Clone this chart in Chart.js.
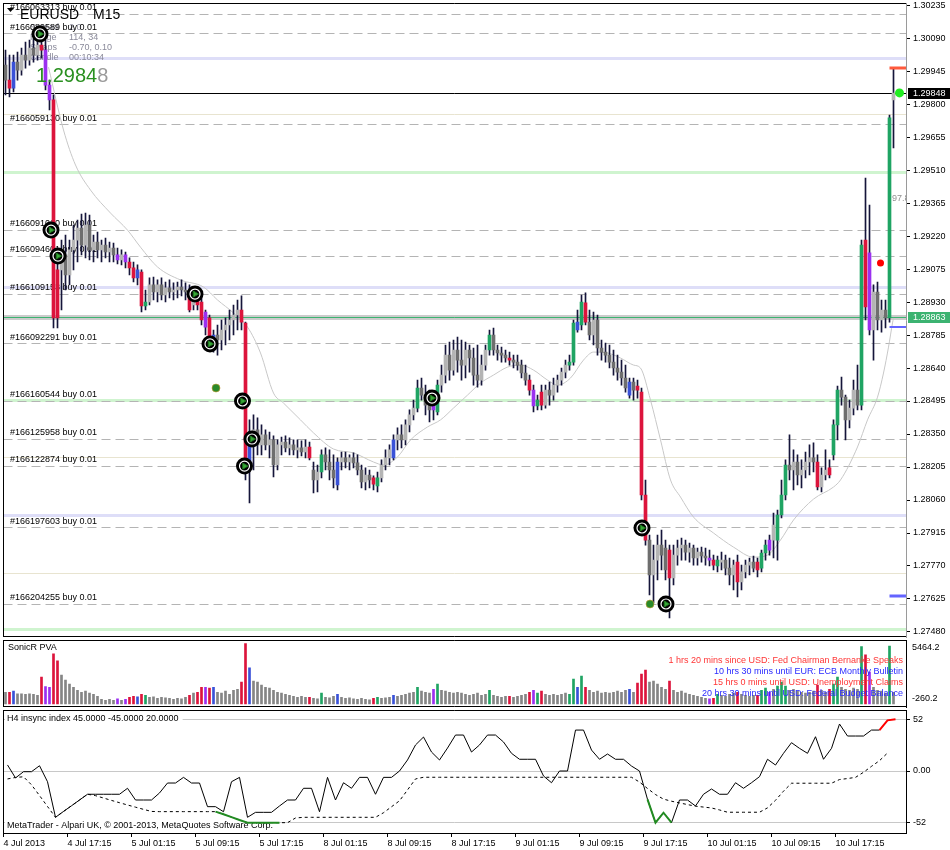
<!DOCTYPE html>
<html><head><meta charset="utf-8"><title>EURUSD M15</title>
<script src="https://cdn.jsdelivr.net/npm/chart.js@4.4.1/dist/chart.umd.min.js"></script>
<style>
html,body{margin:0;padding:0;background:#fff;}
body{width:950px;height:850px;position:relative;overflow:hidden;}
canvas{position:absolute;left:0;}
</style></head><body>
<canvas id="cMain" width="950" height="640" style="top:0px"></canvas>
<canvas id="cVol" width="950" height="70" style="top:639px"></canvas>
<canvas id="cOsc" width="950" height="141" style="top:709px"></canvas>
<script>
// ================= DATA =================
const priceTicks = [1.30235,1.30090,1.29945,1.29800,1.29655,1.29510,1.29365,1.29220,1.29075,1.28930,1.28785,1.28640,1.28495,1.28350,1.28205,1.28060,1.27915,1.27770,1.27625,1.27480];
const timeLabels = ['4 Jul 2013','4 Jul 17:15','5 Jul 01:15','5 Jul 09:15','5 Jul 17:15','8 Jul 01:15','8 Jul 09:15','8 Jul 17:15','9 Jul 01:15','9 Jul 09:15','9 Jul 17:15','10 Jul 01:15','10 Jul 09:15','10 Jul 17:15'];
const timeLabelBar = [0,32,64,96,128,160,192,224,256,288,320,352,384,416]; // M15 bar index

// 30-minute bars [open, high, low, close]
const ohlc = [
[1.29971,1.30037,1.29840,1.29905],[1.29905,1.30015,1.29831,1.29870],[1.29870,1.30015,1.29853,1.29984],[1.29984,1.30028,1.29905,1.29949],
[1.29949,1.30046,1.29927,1.30015],[1.30015,1.30072,1.29958,1.29993],[1.29993,1.30081,1.29971,1.30046],[1.30046,1.30090,1.29984,1.30015],
[1.30015,1.30081,1.29993,1.30059],[1.30059,1.30103,1.30002,1.30037],[1.30037,1.30081,1.29862,1.29883],[1.29883,1.29905,1.29774,1.29818],
[1.29818,1.29840,1.28816,1.28860],[1.28860,1.29159,1.28816,1.29071],[1.29071,1.29202,1.28895,1.29137],[1.29137,1.29224,1.28983,1.29049],
[1.29049,1.29202,1.29005,1.29159],[1.29159,1.29268,1.29071,1.29202],[1.29202,1.29290,1.29106,1.29255],[1.29255,1.29316,1.29137,1.29180],
[1.29180,1.29321,1.29124,1.29268],[1.29268,1.29312,1.29115,1.29159],[1.29159,1.29224,1.29106,1.29193],[1.29193,1.29237,1.29124,1.29159],
[1.29159,1.29202,1.29106,1.29180],[1.29180,1.29211,1.29124,1.29150],[1.29150,1.29193,1.29106,1.29167],[1.29167,1.29189,1.29106,1.29137],
[1.29137,1.29167,1.29097,1.29115],[1.29115,1.29159,1.29093,1.29137],[1.29137,1.29150,1.29080,1.29106],[1.29106,1.29124,1.29049,1.29080],
[1.29080,1.29106,1.29018,1.29036],[1.29036,1.29093,1.29005,1.29071],[1.29062,1.29071,1.28886,1.28913],[1.28913,1.28983,1.28895,1.28930],
[1.28930,1.29036,1.28917,1.29005],[1.29005,1.29040,1.28939,1.28974],[1.28974,1.29027,1.28930,1.29005],[1.29005,1.29036,1.28939,1.28961],
[1.28961,1.29018,1.28930,1.28992],[1.28992,1.29027,1.28948,1.28974],[1.28974,1.29014,1.28939,1.28983],[1.28983,1.29018,1.28948,1.28996],
[1.28996,1.29027,1.28957,1.28983],[1.28983,1.29014,1.28939,1.28974],[1.28952,1.29005,1.28886,1.28895],[1.28917,1.28992,1.28895,1.28961],
[1.28961,1.28983,1.28895,1.28917],[1.28930,1.28948,1.28829,1.28851],[1.28886,1.28895,1.28785,1.28820],[1.28860,1.28873,1.28728,1.28750],
[1.28719,1.28807,1.28710,1.28785],[1.28785,1.28829,1.28697,1.28763],[1.28763,1.28851,1.28719,1.28807],[1.28807,1.28860,1.28741,1.28829],
[1.28829,1.28895,1.28763,1.28851],[1.28851,1.28917,1.28785,1.28873],[1.28873,1.28939,1.28807,1.28895],[1.28895,1.28957,1.28807,1.28842],
[1.28838,1.28842,1.28148,1.28192],[1.28192,1.28412,1.28047,1.28324],[1.28324,1.28434,1.28192,1.28368],[1.28368,1.28421,1.28258,1.28302],
[1.28302,1.28390,1.28258,1.28346],[1.28346,1.28368,1.28280,1.28302],[1.28302,1.28359,1.28245,1.28324],[1.28324,1.28342,1.28161,1.28214],
[1.28214,1.28324,1.28192,1.28302],[1.28302,1.28337,1.28258,1.28315],[1.28315,1.28342,1.28271,1.28289],[1.28289,1.28333,1.28258,1.28302],
[1.28302,1.28324,1.28258,1.28280],[1.28280,1.28324,1.28245,1.28289],[1.28289,1.28320,1.28254,1.28271],[1.28271,1.28324,1.28245,1.28293],
[1.28293,1.28315,1.28236,1.28245],[1.28192,1.28227,1.28091,1.28148],[1.28148,1.28214,1.28095,1.28183],[1.28183,1.28280,1.28157,1.28258],
[1.28258,1.28289,1.28192,1.28227],[1.28227,1.28280,1.28148,1.28192],[1.28192,1.28258,1.28113,1.28157],[1.28126,1.28245,1.28104,1.28227],
[1.28227,1.28271,1.28192,1.28245],[1.28245,1.28271,1.28201,1.28227],[1.28227,1.28258,1.28192,1.28245],[1.28245,1.28267,1.28201,1.28223],
[1.28223,1.28258,1.28170,1.28192],[1.28192,1.28214,1.28113,1.28139],[1.28139,1.28201,1.28104,1.28170],[1.28170,1.28192,1.28113,1.28148],
[1.28157,1.28166,1.28104,1.28130],[1.28122,1.28183,1.28095,1.28157],[1.28157,1.28236,1.28139,1.28214],[1.28214,1.28280,1.28192,1.28245],
[1.28245,1.28302,1.28214,1.28280],[1.28245,1.28346,1.28236,1.28324],[1.28324,1.28377,1.28280,1.28346],[1.28346,1.28390,1.28289,1.28324],
[1.28324,1.28412,1.28302,1.28390],[1.28390,1.28456,1.28359,1.28434],[1.28434,1.28499,1.28412,1.28464],[1.28464,1.28587,1.28447,1.28552],
[1.28552,1.28596,1.28499,1.28521],[1.28521,1.28565,1.28434,1.28477],[1.28477,1.28543,1.28403,1.28456],[1.28456,1.28521,1.28412,1.28490],
[1.28447,1.28587,1.28434,1.28565],[1.28565,1.28653,1.28534,1.28609],[1.28609,1.28741,1.28574,1.28697],[1.28697,1.28754,1.28587,1.28631],
[1.28631,1.28763,1.28609,1.28719],[1.28719,1.28776,1.28622,1.28675],[1.28675,1.28763,1.28587,1.28653],[1.28653,1.28754,1.28596,1.28719],
[1.28719,1.28741,1.28622,1.28684],[1.28684,1.28728,1.28565,1.28609],[1.28609,1.28741,1.28556,1.28587],[1.28587,1.28697,1.28565,1.28653],
[1.28653,1.28741,1.28631,1.28719],[1.28719,1.28807,1.28697,1.28785],[1.28785,1.28816,1.28697,1.28719],[1.28719,1.28741,1.28675,1.28706],
[1.28706,1.28732,1.28666,1.28697],[1.28697,1.28719,1.28666,1.28684],[1.28684,1.28710,1.28653,1.28675],[1.28675,1.28697,1.28640,1.28666],
[1.28666,1.28697,1.28631,1.28653],[1.28653,1.28675,1.28596,1.28618],[1.28618,1.28653,1.28565,1.28587],[1.28587,1.28609,1.28521,1.28543],
[1.28543,1.28565,1.28447,1.28473],[1.28473,1.28521,1.28456,1.28499],[1.28534,1.28565,1.28456,1.28477],[1.28477,1.28565,1.28464,1.28543],
[1.28543,1.28578,1.28477,1.28521],[1.28521,1.28596,1.28499,1.28565],[1.28565,1.28609,1.28534,1.28587],[1.28587,1.28640,1.28565,1.28622],
[1.28622,1.28675,1.28596,1.28653],[1.28653,1.28697,1.28631,1.28666],[1.28666,1.28851,1.28653,1.28838],[1.28807,1.28895,1.28798,1.28842],
[1.28829,1.28961,1.28807,1.28930],[1.28926,1.28970,1.28829,1.28842],[1.28842,1.28895,1.28763,1.28785],[1.28785,1.28886,1.28741,1.28851],
[1.28851,1.28873,1.28697,1.28728],[1.28728,1.28763,1.28675,1.28710],[1.28710,1.28750,1.28666,1.28697],[1.28697,1.28741,1.28640,1.28666],
[1.28666,1.28719,1.28609,1.28640],[1.28640,1.28697,1.28587,1.28622],[1.28622,1.28675,1.28565,1.28596],[1.28596,1.28653,1.28534,1.28552],
[1.28521,1.28596,1.28508,1.28578],[1.28578,1.28596,1.28499,1.28543],[1.28561,1.28587,1.28508,1.28543],[1.28534,1.28552,1.28060,1.28082],
[1.28082,1.28148,1.27862,1.27884],[1.27884,1.27906,1.27643,1.27731],[1.27731,1.27862,1.27608,1.27796],[1.27796,1.27906,1.27709,1.27862],
[1.27862,1.27928,1.27753,1.27818],[1.27849,1.27884,1.27709,1.27753],[1.27840,1.27862,1.27542,1.27718],[1.27718,1.27862,1.27687,1.27818],
[1.27818,1.27884,1.27774,1.27849],[1.27849,1.27893,1.27796,1.27862],[1.27862,1.27884,1.27796,1.27831],[1.27831,1.27871,1.27787,1.27849],
[1.27849,1.27862,1.27774,1.27805],[1.27805,1.27849,1.27774,1.27831],[1.27831,1.27853,1.27787,1.27814],[1.27814,1.27849,1.27774,1.27805],
[1.27805,1.27840,1.27770,1.27796],[1.27796,1.27818,1.27753,1.27774],[1.27770,1.27814,1.27744,1.27796],[1.27787,1.27831,1.27753,1.27796],
[1.27796,1.27818,1.27731,1.27761],[1.27761,1.27805,1.27687,1.27731],[1.27731,1.27796,1.27665,1.27774],[1.27787,1.27818,1.27634,1.27700],
[1.27700,1.27774,1.27665,1.27744],[1.27744,1.27796,1.27718,1.27774],[1.27774,1.27805,1.27731,1.27787],[1.27787,1.27814,1.27744,1.27761],
[1.27787,1.27805,1.27722,1.27753],[1.27761,1.27840,1.27744,1.27827],[1.27827,1.27884,1.27796,1.27862],[1.27840,1.27906,1.27818,1.27884],
[1.27884,1.28003,1.27805,1.27950],[1.27884,1.28016,1.27796,1.27994],[1.27994,1.28148,1.27981,1.28082],[1.28082,1.28236,1.28060,1.28214],
[1.28214,1.28346,1.28148,1.28192],[1.28192,1.28280,1.28104,1.28227],[1.28227,1.28258,1.28126,1.28170],[1.28170,1.28236,1.28113,1.28192],
[1.28192,1.28271,1.28157,1.28227],[1.28227,1.28302,1.28170,1.28245],[1.28245,1.28311,1.28183,1.28227],[1.28227,1.28258,1.28104,1.28117],
[1.28117,1.28201,1.28095,1.28170],[1.28170,1.28280,1.28148,1.28192],[1.28201,1.28236,1.28157,1.28170],[1.28258,1.28412,1.28236,1.28390],
[1.28390,1.28561,1.28324,1.28543],[1.28543,1.28600,1.28477,1.28512],[1.28512,1.28521,1.28324,1.28412],[1.28412,1.28499,1.28377,1.28464],
[1.28464,1.28587,1.28434,1.28543],[1.28543,1.28653,1.28456,1.28477],[1.28477,1.29202,1.28456,1.29180],[1.29202,1.29475,1.28851,1.28908],
[1.29146,1.29356,1.28785,1.28807],[1.28807,1.29005,1.28675,1.28974],[1.28974,1.29018,1.28807,1.28851],[1.28851,1.28939,1.28798,1.28895],
[1.28895,1.28939,1.28816,1.28860],[1.28860,1.29752,1.28842,1.29739],[1.29818,1.29958,1.29607,1.29848]
];

// SonicR PVA class per bar: n normal, r climax bear, g climax bull, b rising volume, p other
const pvaClass = 'nrbnnnnnnr'+'pprrnnnnnn'+'nnnnnnnnpn'+'prrbrgnnnn'+'nnnnnnrnrr'+'prbnnnnnnr'+'rbnnnnnnnn'+'nnnnnnrnng'+
  'nnnbnnnnnn'+'nnrgnnnbnn'+'nnngnnnpgn'+'nnnnnnnnnn'+'ngnnnnrnnn'+'nrpgrnnnnn'+'nggbgrnnnn'+'nnnnnnbnrr'+
  'rnnnnnrnnn'+'nnnnnnprgn'+'nnnrnnnnrg'+'gpngggnnnn'+'nnnrnnrggn'+'nnnngrpnnn'+'ngn';

const volumes = [
1000,1000,1090,870,870,830,870,830,740,2300, 1480,1430,4290,3680,2470,2040,1690,1430,1170,1000,
1090,920,830,660,400,310,400,310,440,310, 400,570,660,610,830,740,570,610,480,570,
530,480,400,480,440,570,740,920,1000,1430, 1430,1350,1430,1000,920,1090,830,1170,1260,1870,
5150,3080,1950,1870,1610,1430,1350,1170,1000,920, 830,740,660,570,660,570,570,480,440,920,
570,530,660,830,570,480,530,440,400,480, 400,350,480,570,480,530,570,740,660,740,
830,920,1000,1430,1090,1000,920,1260,1690,1170, 1090,1000,920,1000,920,830,740,830,920,740,
830,1170,740,660,570,660,660,570,660,740, 830,1000,1170,920,1090,830,740,830,740,830,
920,830,2130,1430,2390,1430,1170,1000,1090,920, 1000,920,1000,1090,1000,1170,1260,1000,1780,2560,
2900,1870,1950,1690,1430,1260,1950,1170,1000,1090, 920,830,740,660,570,480,440,480,830,740,
660,830,920,1000,830,740,660,740,740,1170, 1350,1000,1260,1520,1870,1520,1170,1260,1090,1000,
920,1000,1090,1610,1170,1000,1260,1690,2300,1430, 1260,1170,1350,1260,4900,4200,2730,1430,1170,1090,
920,4940,1000
];

// moving average (M15 bar index, price)
const maBar = [22.5,30,36,43.5,53.5,62,68.5,77,88.5,100,107,115,122,128.5,135,140,148.5,155,165,175,185,190,197,203.5,212,218.5,225,232,238.5,245,252,258.5,265,272,277,283.5,290,295,302,308.5,315,318.5,323.5,328.5,333.5,338.5,345,355,365,375,382,388.5,395,405,415,418.5,427,432,437,440,442.5,444.5,445];
const maValue = [1.29962,1.29686,1.29532,1.29422,1.29321,1.29246,1.29171,1.29084,1.29027,1.28996,1.28939,1.28882,1.28820,1.28706,1.28530,1.28486,1.28412,1.28355,1.28284,1.28267,1.28227,1.28214,1.28249,1.28324,1.28381,1.28412,1.28464,1.28521,1.28574,1.28609,1.28644,1.28653,1.28631,1.28587,1.28565,1.28596,1.28675,1.28710,1.28706,1.28684,1.28653,1.28640,1.28499,1.28324,1.28148,1.28073,1.27985,1.27915,1.27853,1.27809,1.27818,1.27884,1.27972,1.28064,1.28117,1.28148,1.28293,1.28412,1.28512,1.28618,1.28732,1.28838,1.28860];

const orderIds = ['166063313','166089589','166059130','166091060','166094601','166109153','166092291','166160544','166125958','166122874','166197603','166204255'];
const orderPrices = [1.30195,1.30108,1.29708,1.29246,1.29132,1.28965,1.28746,1.28495,1.28328,1.28209,1.27937,1.27603];
const entryBar = [18.25,23.75,27.25,95.75,103.25,119.5,120.5,124.25,214.25,319.25,331.25];
const entryPrice = [1.30108,1.29246,1.29132,1.28965,1.28746,1.28495,1.28209,1.28328,1.28508,1.27937,1.27603];
const signalDotBar = [106.25,323.25]; const signalDotPrice = [1.28552,1.27603];
const alertBar = [438.5]; const alertPrice = [1.29102];
const bidDotBar = [448]; const bidDotPrice = [1.29849];

const lavenderLevels = [1.30002,1.28996,1.27990];
const greenLevels = [1.29499,1.28497,1.27489];
const beigeLevels = [1.29752,1.28245,1.27739];
const bidPrice = 1.28863, lastPrice = 1.29848, dayHigh = 1.29958;
const blueLevels = [1.28820,1.27640];
const fibText = '97.8', fibPrice = 1.29383;

// H4 insync index, one value per hour (k), main and signal
const oscMain = [6.1,-7.0,-0.7,-0.7,5.3,-10.8,-46.6,-40.7,-35.0,-29.2,
 -23.4,-23.4,-23.4,-23.4,-23.4,-17.4,-29.2,-29.2,-29.2,-22.1,
 -12.1,-12.1,-6.4,-12.1,-12.1,-35.9,-35.9,-41.0,-10.8,-6.4,
 -46.6,-41.6,-41.6,-41.6,-35.2,-29.2,-29.2,-17.4,-17.4,-41.0,
 -6.4,-29.2,-11.8,-17.4,-6.4,-6.4,-23.4,-6.4,-6.4,0,
 11.1,26.2,34.2,19.1,11.1,23.1,36.2,36.2,19.1,26.2,
 36.2,36.2,29.2,17.8,11.8,11.8,11.8,-5.0,-11.8,0,
 0,41.2,41.2,21.1,11.8,17.1,11.8,11.8,5.0,0,
 -28.5,-52.0,-42.0,-52.0,-29.2,-29.2,-35.2,-23.4,-18.1,-23.4,
 -23.4,-11.8,-17.4,-11.8,-5.7,11.8,6.0,17.8,28.5,22.8,
 17.8,34.5,11.8,22.8,47.3,35.2,35.2,35.2,41.2,41.2,
 51.0,52.0];
const oscSignal = [-8.0,-6.5,-5.8,-13.9,-24.7,-35.7,-46.6,-40.7,-35.0,-29.2,
 -23.4,-24.8,-27.2,-29.6,-31.9,-34.2,-36.4,-38.6,-40.7,-40.9,
 -40.9,-40.9,-40.9,-40.9,-40.9,-40.9,-40.9,-43.5,-46.4,-49.3,
 -52.0,-52.0,-52.0,-52.0,-52.0,-52.0,-47.3,-46.6,-46.6,-46.6,
 -46.6,-46.6,-46.6,-46.6,-46.6,-46.6,-46.6,-42.0,-36.0,-30.0,
 -19.1,-8.0,-6.3,-6.3,-6.3,-6.3,-6.3,-6.3,-6.3,-6.3,
 -6.3,-6.3,-6.3,-6.3,-6.3,-6.3,-6.3,-6.3,-6.3,-6.3,
 -6.3,-6.3,-6.3,-6.3,-6.3,-6.3,-6.3,-6.3,-6.3,-11.1,
 -17.6,-23.7,-28.3,-30.4,-32.1,-33.8,-35.4,-36.3,-37.2,-39.2,
 -41.5,-41.5,-41.5,-41.5,-41.5,-37.1,-29.5,-20.3,-12.3,-12.3,
 -12.3,-12.3,-12.3,-12.3,-8.6,-7.6,-6.4,-1.3,4.7,10.4,
 18.1];
const oscGreenSignalK = [26,27,28,29,30,31,32,33,34];
const oscGreenMainK = [80,81,82,83];
const oscRedMainK = [109,110,111];
const oscTicks = [-52,0,52];
const volTicks = [-260.2,5464.2];

const events = [
  ['1 hrs 20 mins since USD: Fed Chairman Bernanke Speaks','#ff3535'],
  ['10 hrs 30 mins until EUR: ECB Monthly Bulletin','#2a2aff'],
  ['15 hrs 0 mins until USD: Unemployment Claims','#ff3535'],
  ['20 hrs 30 mins until USD: Federal Budget Balance','#2a2aff']
];

// ================= RENDER =================
const X_MAX = 451.25;
const FONT = '"Liberation Sans", Arial, sans-serif';
const barX = i => 1 + 2 * i;           // 30-min bar centre in M15 units
const oscX = k => 2 + 4 * k;           // hourly sample in M15 units
const pvaColor = {r:'#dc143c', g:'#1fa463', b:'#3a52d8', p:'#9b30f0'};
const bodyColors = ohlc.map((b, i) => pvaColor[pvaClass[i]] || (b[3] >= b[0] ? '#b4b4b4' : '#6e6e6e'));
const volColors = volumes.map((v, i) => pvaColor[pvaClass[i]] || '#858585');

const common = {
  responsive:false, animation:false, devicePixelRatio:1, events:[],
  plugins:{legend:{display:false}, tooltip:{enabled:false}}
};
function rightAxis(min, max, tickVals, fmt, showLabels, border) {
  return {
    type:'linear', position:'right', min, max, beginAtZero:false,
    afterBuildTicks(s){ s.ticks = tickVals.map(v => ({value:v})); },
    afterFit(s){ s.width = 44; s.paddingTop = 0; s.paddingBottom = 0; },
    ticks:{display:showLabels, autoSkip:false, padding:3, color:'#000', font:{family:FONT, size:9}, callback:fmt},
    grid:{drawOnChartArea:false, drawTicks:true, tickLength:4, tickColor:'#000', color:'#000'},
    border
  };
}
const hiddenX = {type:'linear', min:0, max:X_MAX, display:false, offset:false, grid:{offset:false}};

// ---------- main price panel ----------
const mainDecor = {
  id:'mainDecor',
  beforeDatasetsDraw(chart){
    const {ctx, chartArea:a} = chart; const y = chart.scales.y;
    ctx.save();
    ctx.beginPath(); ctx.rect(a.left, a.top, a.right - a.left, a.bottom - a.top); ctx.clip();
    const hline = (p, color, w, dash) => {
      let py = y.getPixelForValue(p);
      py = (w % 2 === 1) ? Math.round(py - 0.5) + 0.5 : Math.round(py);
      ctx.strokeStyle = color; ctx.lineWidth = w; ctx.setLineDash(dash || []);
      ctx.beginPath(); ctx.moveTo(a.left, py); ctx.lineTo(a.right, py); ctx.stroke();
    };
    lavenderLevels.forEach(p => hline(p, '#dedef8', 3));
    greenLevels.forEach(p => hline(p, '#cff4cf', 3));
    beigeLevels.forEach(p => hline(p, '#e8e4d0', 1));
    orderPrices.forEach(p => hline(p, '#b4b4b4', 1, [9, 5]));
    hline(bidPrice, '#cccccc', 5);
    hline(bidPrice, '#3cb371', 1);
    hline(lastPrice, '#000000', 1);
    ctx.setLineDash([]);
    // info block (under the order labels)
    ctx.font = '9px ' + FONT; ctx.fillStyle = '#8a8a9a'; ctx.textBaseline = 'middle'; ctx.textAlign = 'left';
    [['Spread','2.0',28],['Range','114, 34',38],['Swaps','-0.70, 0.10',48],['Candle','00:10:34',58]].forEach(r => {
      ctx.fillText(r[0], 30, r[2]); ctx.fillText(r[1], 69, r[2]);
    });
    ctx.fillStyle = '#000';
    orderIds.forEach((id, k) => ctx.fillText('#' + id + ' buy 0.01', 10, y.getPixelForValue(orderPrices[k]) - 6.5));
    ctx.restore();
  },
  afterDatasetsDraw(chart){
    const {ctx, chartArea:a} = chart; const y = chart.scales.y, x = chart.scales.x;
    ctx.save();
    ctx.beginPath(); ctx.rect(a.left, a.top, a.right - a.left, a.bottom - a.top); ctx.clip();
    const seg = (p, color, w) => {
      const py = Math.round(y.getPixelForValue(p));
      ctx.strokeStyle = color; ctx.lineWidth = w;
      ctx.beginPath(); ctx.moveTo(x.getPixelForValue(443), py); ctx.lineTo(a.right, py); ctx.stroke();
    };
    seg(dayHigh, '#ff5a3c', 3);
    seg(blueLevels[0], '#6464ff', 2);
    seg(blueLevels[1], '#6464ff', 3);
    ctx.font = '9px ' + FONT; ctx.fillStyle = '#909090'; ctx.textBaseline = 'middle';
    ctx.fillText(fibText, x.getPixelForValue(444.3), y.getPixelForValue(fibPrice));
    // title and big price
    ctx.fillStyle = '#000';
    ctx.beginPath(); ctx.moveTo(7, 8); ctx.lineTo(14, 8); ctx.lineTo(10.5, 12); ctx.closePath(); ctx.fill();
    ctx.font = '14px ' + FONT; ctx.textBaseline = 'alphabetic';
    ctx.fillText('EURUSD', 20, 19); ctx.fillText('M15', 93, 19);
    ctx.font = '20px ' + FONT;
    const big = lastPrice.toFixed(5);
    ctx.fillStyle = '#2a9020'; ctx.fillText(big.slice(0, 6), 36, 82);
    const w6 = ctx.measureText(big.slice(0, 6)).width;
    ctx.fillStyle = '#9a9a9a'; ctx.fillText(big.slice(6), 36 + w6, 82);
    ctx.restore();
  },
  afterDraw(chart){
    const {ctx, chartArea:a} = chart; const y = chart.scales.y;
    ctx.save();
    ctx.strokeStyle = '#000'; ctx.lineWidth = 1;
    ctx.beginPath();
    ctx.moveTo(a.left, a.top + 0.5); ctx.lineTo(a.right, a.top + 0.5);
    ctx.moveTo(a.left, a.top); ctx.lineTo(a.left, a.bottom);
    ctx.moveTo(a.left, a.bottom - 0.5); ctx.lineTo(a.right, a.bottom - 0.5);
    ctx.stroke();
    const box = (p, bg, txt) => {
      const py = Math.round(y.getPixelForValue(p));
      ctx.fillStyle = bg; ctx.fillRect(908, py - 5, 42, 11);
      ctx.fillStyle = '#fff'; ctx.font = '9px ' + FONT; ctx.textBaseline = 'middle'; ctx.textAlign = 'left';
      ctx.fillText(txt, 913, py + 0.5);
    };
    box(lastPrice, '#000', lastPrice.toFixed(5));
    box(bidPrice, '#3cb371', bidPrice.toFixed(5));
    ctx.restore();
  }
};

new Chart(document.getElementById('cMain'), {
  type:'bar',
  data:{datasets:[
    {type:'line', data:maBar.map((b, k) => ({x:b, y:maValue[k]})), borderColor:'#c8c8c8', borderWidth:1, pointRadius:0, cubicInterpolationMode:'monotone', order:10},
    {data:ohlc.map((b, i) => ({x:barX(i), y:[b[2], b[1]]})), backgroundColor:'#15153a', barThickness:1, grouped:false, order:9},
    {data:ohlc.map((b, i) => ({x:barX(i), y:[b[0], b[3]]})), backgroundColor:bodyColors, barThickness:3, grouped:false, order:8},
    {type:'line', showLine:false, data:entryBar.map((b, k) => ({x:b, y:entryPrice[k]})), pointStyle:'circle', pointRadius:8.5, pointBackgroundColor:'#000', pointBorderWidth:0, order:7},
    {type:'line', showLine:false, data:entryBar.map((b, k) => ({x:b, y:entryPrice[k]})), pointStyle:'circle', pointRadius:5, pointBackgroundColor:'rgba(0,0,0,0)', pointBorderColor:'#fff', pointBorderWidth:1.2, order:6},
    {type:'line', showLine:false, data:entryBar.map((b, k) => ({x:b, y:entryPrice[k]})), pointStyle:'triangle', pointRotation:90, pointRadius:3.5, pointBackgroundColor:'#3aa83a', pointBorderColor:'#1e7a1e', pointBorderWidth:1, order:5},
    {type:'line', showLine:false, data:signalDotBar.map((b, k) => ({x:b, y:signalDotPrice[k]})), pointRadius:4, pointBackgroundColor:'#2a8a2a', pointBorderColor:'#c89a30', pointBorderWidth:0.6, order:4},
    {type:'line', showLine:false, data:alertBar.map((b, k) => ({x:b, y:alertPrice[k]})), pointRadius:3.5, pointBackgroundColor:'#ff0000', pointBorderWidth:0, order:3},
    {type:'line', showLine:false, data:bidDotBar.map((b, k) => ({x:b, y:bidDotPrice[k]})), pointRadius:4.5, pointBackgroundColor:'#22ee22', pointBorderWidth:0, order:2}
  ]},
  options:Object.assign({}, common, {
    layout:{autoPadding:false, padding:{left:3.5, right:0, top:3, bottom:3}},
    scales:{
      x:hiddenX,
      y:rightAxis(1.27458, 1.30244, priceTicks, v => Number(v).toFixed(5), true, {display:true, color:'#9a9a9a', dash:[2,2]})
    }
  }),
  plugins:[mainDecor]
});

// ---------- volume panel ----------
const volDecor = {
  id:'volDecor',
  afterDatasetsDraw(chart){
    const {ctx} = chart;
    ctx.save();
    ctx.font = '9px ' + FONT; ctx.textBaseline = 'middle'; ctx.textAlign = 'left'; ctx.fillStyle = '#000';
    ctx.fillText('SonicR PVA', 8, 9);
    ctx.textAlign = 'right';
    events.forEach((e, k) => { ctx.fillStyle = e[1]; ctx.fillText(e[0], 903, 22 + 11 * k); });
    ctx.restore();
  },
  afterDraw(chart){
    const {ctx, chartArea:a} = chart; const y = chart.scales.y;
    ctx.save();
    ctx.strokeStyle = '#000'; ctx.lineWidth = 1;
    ctx.beginPath();
    ctx.moveTo(a.left, a.top + 0.5); ctx.lineTo(a.right, a.top + 0.5);
    ctx.moveTo(a.left, a.top); ctx.lineTo(a.left, a.bottom);
    ctx.moveTo(a.left, a.bottom - 0.5); ctx.lineTo(a.right, a.bottom - 0.5);
    ctx.stroke();
    ctx.font = '9px ' + FONT; ctx.fillStyle = '#000'; ctx.textBaseline = 'middle'; ctx.textAlign = 'left';
    ctx.fillText(volTicks[1].toFixed(1), 912, y.getPixelForValue(volTicks[1]) + 8);
    ctx.fillText(volTicks[0].toFixed(1), 912, y.getPixelForValue(volTicks[0]) - 8);
    ctx.restore();
  }
};
new Chart(document.getElementById('cVol'), {
  type:'bar',
  data:{datasets:[
    {data:volumes.map((v, i) => ({x:barX(i), y:v})), backgroundColor:volColors, barThickness:2, grouped:false}
  ]},
  options:Object.assign({}, common, {
    layout:{autoPadding:false, padding:{left:3.5, right:0, top:1, bottom:2}},
    scales:{
      x:hiddenX,
      y:Object.assign(rightAxis(volTicks[0], volTicks[1], volTicks, v => Number(v).toFixed(1), false, {display:true, color:'#000'}), {grid:{drawOnChartArea:false, drawTicks:false}})
    }
  }),
  plugins:[volDecor]
});

// ---------- oscillator panel ----------
const allK = n => Array.from({length:n}, (_, k) => k);
const oscPts = (arr, ks) => ks.map(k => ({x:oscX(k), y:arr[k]}));
const oscDecor = {
  id:'oscDecor',
  beforeDatasetsDraw(chart){
    const {ctx} = chart;
    ctx.save();
    ctx.font = '9px ' + FONT; ctx.textBaseline = 'middle'; ctx.textAlign = 'left';
    const t1 = 'H4 insync index 45.0000 -45.0000 20.0000';
    const t2 = 'MetaTrader - Alpari UK, \u00a9 2001-2013, MetaQuotes Software Corp.';
    ctx.fillStyle = '#fff';
    ctx.fillRect(5, 4, ctx.measureText(t1).width + 6, 11);
    ctx.fillRect(5, 111, ctx.measureText(t2).width + 6, 11);
    ctx.fillStyle = '#000';
    ctx.fillText(t1, 7, 9.5);
    ctx.fillText(t2, 7, 116.5);
    ctx.restore();
  },
  afterDraw(chart){
    const {ctx, chartArea:a} = chart;
    ctx.save();
    ctx.strokeStyle = '#000'; ctx.lineWidth = 1;
    ctx.beginPath();
    ctx.moveTo(a.left, a.top + 0.5); ctx.lineTo(a.right, a.top + 0.5);
    ctx.moveTo(a.left, a.top); ctx.lineTo(a.left, a.bottom);
    ctx.stroke();
    ctx.restore();
  }
};
new Chart(document.getElementById('cOsc'), {
  type:'line',
  data:{datasets:[
    {data:oscPts(oscSignal, allK(oscSignal.length)), borderColor:'#000', borderWidth:1, borderDash:[3,3], pointRadius:0, order:5},
    {data:oscPts(oscMain, allK(110)), borderColor:'#000', borderWidth:1, pointRadius:0, order:4},
    {data:oscPts(oscSignal, oscGreenSignalK), borderColor:'#228b22', borderWidth:2, pointRadius:0, order:3},
    {data:oscPts(oscMain, oscGreenMainK), borderColor:'#228b22', borderWidth:2, pointRadius:0, order:2},
    {data:oscPts(oscMain, oscRedMainK), borderColor:'#ff0000', borderWidth:2, pointRadius:0, order:1}
  ]},
  options:Object.assign({}, common, {
    layout:{autoPadding:false, padding:{left:3.5, right:0, top:1, bottom:0}},
    scales:{
      x:{type:'linear', position:'bottom', min:0, max:X_MAX, offset:false,
        afterBuildTicks(s){ s.ticks = timeLabelBar.map(v => ({value:v})); },
        afterFit(s){ s.height = 17; s.paddingLeft = 0; s.paddingRight = 0; },
        ticks:{autoSkip:false, maxRotation:0, minRotation:0, align:'start', padding:1, color:'#000', font:{family:FONT, size:9},
          callback(v){ const k = timeLabelBar.indexOf(v); return k >= 0 ? timeLabels[k] : ''; }},
        grid:{drawOnChartArea:false, drawTicks:true, tickLength:4, color:'#000', offset:false},
        border:{display:true, color:'#000'}
      },
      y:Object.assign(rightAxis(-62.4, 61.4, oscTicks, v => (v === 0 ? '0.00' : String(v)), true, {display:true, color:'#000'}),
        {grid:{drawOnChartArea:true, drawTicks:true, tickLength:4, color:'#c8c8c8', tickColor:'#000'}})
    }
  }),
  plugins:[oscDecor]
});
</script>
</body></html>
